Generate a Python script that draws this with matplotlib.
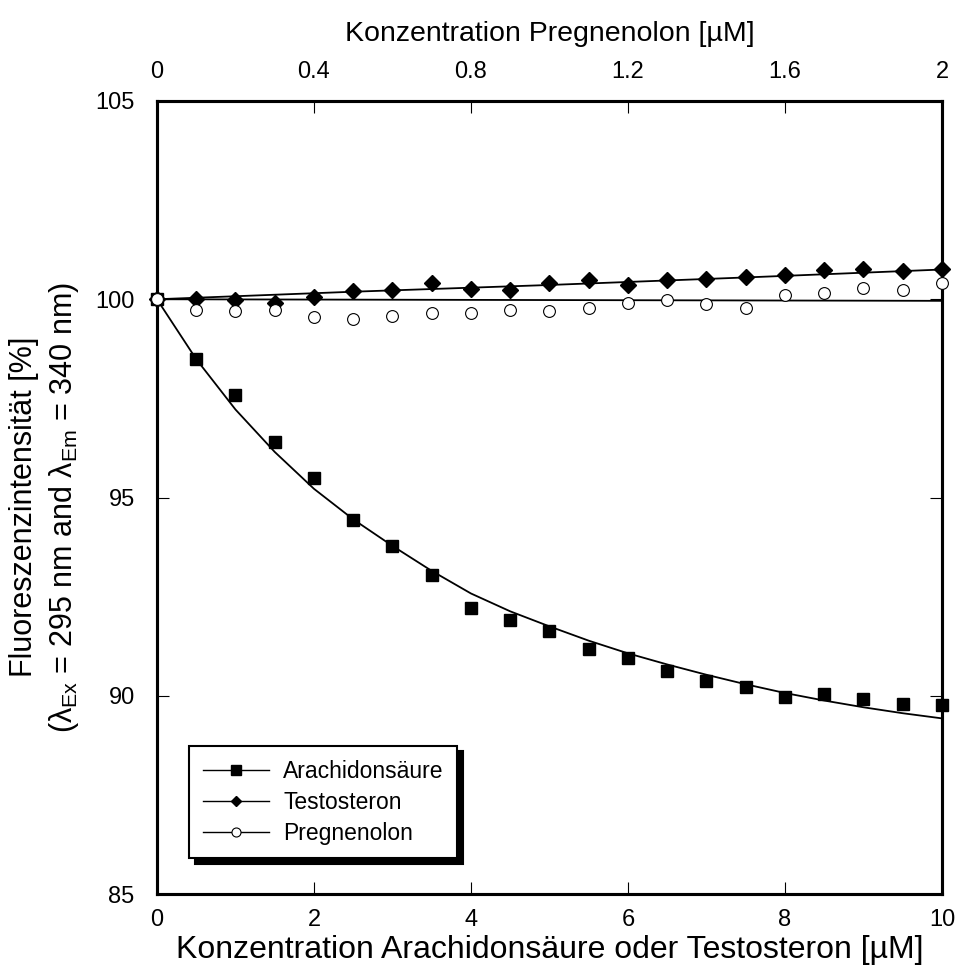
import numpy as np
import matplotlib
matplotlib.use("Agg")
import matplotlib.pyplot as plt
from matplotlib.lines import Line2D

plt.rcParams["font.family"] = ["Liberation Sans", "DejaVu Sans"]
plt.rcParams["mathtext.fontset"] = "custom"
plt.rcParams["mathtext.rm"] = "Liberation Sans"
plt.rcParams["mathtext.it"] = "Liberation Sans:italic"

# measured data (x in uM)
conc_at = [0, 0.5, 1, 1.5, 2, 2.5, 3, 3.5, 4, 4.5, 5, 5.5, 6, 6.5, 7, 7.5, 8, 8.5, 9, 9.5, 10]
arachidon = [100.0, 98.49, 97.58, 96.40, 95.50, 94.43, 93.78, 93.04, 92.22, 91.92, 91.63,
             91.19, 90.96, 90.63, 90.37, 90.23, 89.98, 90.04, 89.91, 89.79, 89.77]
testosteron = [100.0, 100.0, 99.98, 99.90, 100.06, 100.21, 100.23, 100.40, 100.27, 100.23, 100.40,
               100.48, 100.35, 100.48, 100.50, 100.55, 100.61, 100.73, 100.76, 100.71, 100.77]

conc_preg = [0, 0.1, 0.2, 0.3, 0.4, 0.5, 0.6, 0.7, 0.8, 0.9, 1.0,
             1.1, 1.2, 1.3, 1.4, 1.5, 1.6, 1.7, 1.8, 1.9, 2.0]
pregnenolon = [100.0, 99.73, 99.71, 99.73, 99.54, 99.51, 99.58, 99.65, 99.66, 99.72, 99.71,
               99.77, 99.90, 99.97, 99.87, 99.79, 100.11, 100.15, 100.29, 100.23, 100.42]

# fitted curves
arach_fit = [100.0, 98.49, 97.22, 96.15, 95.22, 94.45, 93.78, 93.15, 92.58, 92.13, 91.75,
             91.39, 91.07, 90.79, 90.53, 90.29, 90.07, 89.88, 89.71, 89.56, 89.43]
testo_fit_x = [0, 2.5, 5, 7.5, 10]
testo_fit = [100.0, 100.19, 100.36, 100.55, 100.75]
preg_fit_x = [0, 1, 2]
preg_fit = [100.0, 99.98, 99.96]

fs = 17  # tick labels

fig = plt.figure(figsize=(9.57, 9.72), dpi=100)
ax = fig.add_axes([0.164, 0.0802, 0.8203, 0.8159])

ax.plot(conc_at, arach_fit, color="black", lw=1.3, zorder=2)
ax.plot(testo_fit_x, testo_fit, color="black", lw=1.3, zorder=2)
ax.plot(conc_at, arachidon, ls="none", marker="s", ms=9, color="black", zorder=3, clip_on=False)
ax.plot(conc_at, testosteron, ls="none", marker="D", ms=8, color="black", zorder=3, clip_on=False)

ax.set_xlim(0, 10)
ax.set_ylim(85, 105)
ax.set_xticks([0, 2, 4, 6, 8, 10])
ax.set_yticks([85, 90, 95, 100, 105])
ax.tick_params(axis="both", direction="in", length=8.5, width=0.8, labelsize=fs)
ax.tick_params(axis="x", pad=11)
ax.tick_params(axis="y", pad=16, right=True)
for sp in ax.spines.values():
    sp.set_linewidth(2.2)

ax.set_xlabel("Konzentration Arachidonsäure oder Testosteron [µM]", fontsize=23, labelpad=3)
fig.text(45 / 957, 1 - 507 / 972,
         "Fluoreszenzintensität [%]\n"
         r"($\mathrm{\lambda}_{\mathrm{Ex}}$ = 295 nm and $\mathrm{\lambda}_{\mathrm{Em}}$ = 340 nm)",
         fontsize=22, rotation=90, ha="center", va="center", multialignment="center",
         linespacing=1.35)

ax2 = ax.twiny()
ax2.plot(preg_fit_x, preg_fit, color="black", lw=1.3, zorder=2)
ax2.plot(conc_preg, pregnenolon, ls="none", marker="o", ms=8.5, mfc="white", mec="black",
         mew=0.8, zorder=4, clip_on=False)
ax2.set_xlim(0, 2)
ax2.set_xticks([0, 0.4, 0.8, 1.2, 1.6, 2])
ax2.set_xticklabels(["0", "0.4", "0.8", "1.2", "1.6", "2"])
ax2.tick_params(axis="x", direction="in", length=8.5, width=0.8, labelsize=fs, pad=13)
ax2.set_xlabel("Konzentration Pregnenolon [µM]", fontsize=20.5, labelpad=14)
for sp in ax2.spines.values():
    sp.set_linewidth(2.2)

handles = [
    Line2D([], [], color="black", lw=1.0, marker="s", ms=7, label="Arachidonsäure"),
    Line2D([], [], color="black", lw=1.0, marker="D", ms=5.5, label="Testosteron"),
    Line2D([], [], color="black", lw=1.0, marker="o", ms=6.5, mfc="white", mec="black",
           mew=0.8, label="Pregnenolon"),
]
leg = ax2.legend(handles=handles, loc="lower left", bbox_to_anchor=(0.041, 0.045),
                 borderaxespad=0, fontsize=fs - 0.5, frameon=True, fancybox=False,
                 edgecolor="black", framealpha=1, handlelength=2.9, handletextpad=0.6,
                 labelspacing=0.35, borderpad=0.6,
                 shadow={"ox": 4, "oy": -4, "color": "black", "alpha": 1})
leg.get_frame().set_linewidth(1.5)

fig.savefig("out.png", dpi=100)
